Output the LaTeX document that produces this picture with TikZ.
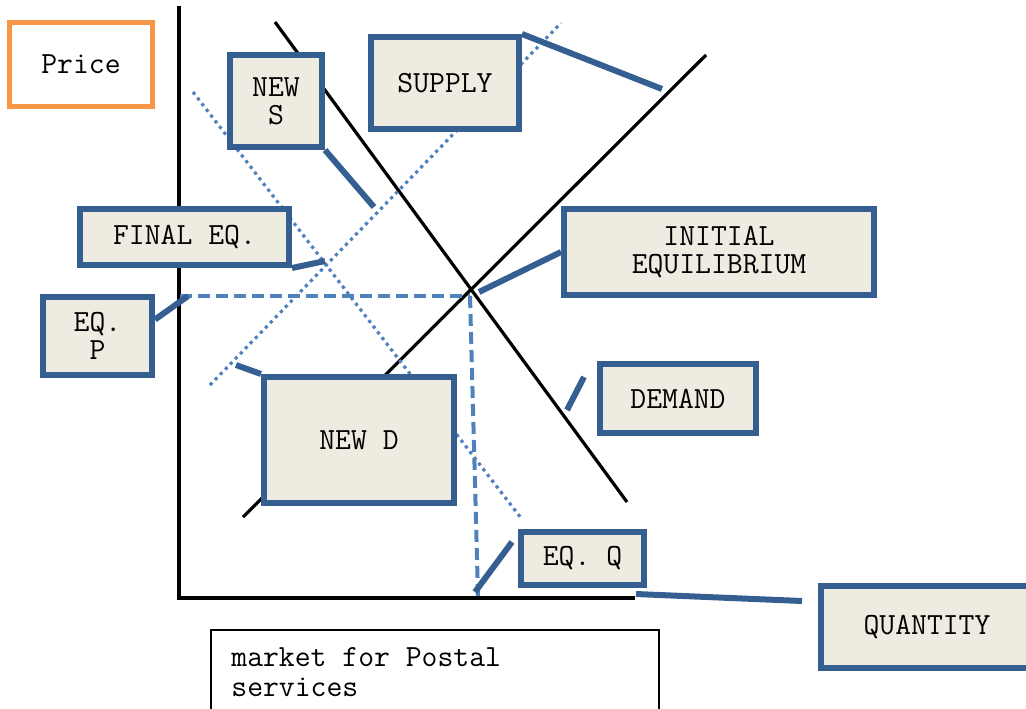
\documentclass[tikz,border=0pt]{standalone}
\usepackage{fontspec}
\usepackage{tikz}
\usetikzlibrary{calc,positioning}
\definecolor{myframe}{RGB}{54,95,145}
\definecolor{mybeige}{RGB}{238,236,225}
\definecolor{myorange}{RGB}{247,150,70}
\definecolor{myaccent}{RGB}{79,129,189}
\tikzstyle{labelbox}=[draw=myframe,fill=mybeige,line width=3pt,align=center,inner sep=0pt,font=\ttfamily\fontsize{15.4}{14}\selectfont]
\tikzstyle{pointer}=[draw=myframe,line width=3pt]
\tikzstyle{curve}=[black,line width=1.6pt]
\tikzstyle{axis}=[black,line width=2pt]
\tikzstyle{shifted}=[myaccent,line width=1.6pt,dash pattern=on 1.6pt off 2pt]
\tikzstyle{guide}=[myaccent,line width=1.6pt,dash pattern=on 6pt off 3pt]

\begin{document}
\begin{tikzpicture}[x=0.5pt,y=-0.5pt]
\useasboundingbox (0,0) rectangle (1026,708);
% axes
\coordinate (origin) at (179,598);
\coordinate (ytop) at (179,6);
\coordinate (xend) at (635,598);
\draw[axis] (ytop) -- (origin) -- (xend);
% demand and supply
\coordinate (d1) at (275,22);
\coordinate (d2) at (627,502);
\coordinate (s1) at (243,517);
\coordinate (s2) at (706,55);
\draw[curve] (d1) -- (d2);
\draw[curve] (s1) -- (s2);
% shifted curves
\coordinate (ns1) at (210,385);
\coordinate (ns2) at (561,23);
\coordinate (nd1) at (193,92);
\coordinate (nd2) at (521,518);
\draw[shifted] (ns1) -- (ns2);
\draw[shifted] (nd1) -- (nd2);
% equilibrium guides
\coordinate (eqpaxis) at (180,296);
\coordinate (eqcorner) at (470,296);
\coordinate (eqqaxis) at (478,596);
\draw[guide] (eqpaxis) -- (eqcorner);
\draw[guide,line width=2pt] (eqcorner) -- (eqqaxis);
% labels
\node[draw=myorange,fill=white,line width=2.5pt,minimum width=71.5pt,minimum height=42pt,inner sep=0pt,font=\ttfamily\fontsize{15.4}{14}\selectfont] (price) at (81,64.5) {Price};
\node[labelbox,minimum width=46pt,minimum height=46pt] (news) at (276,101) {NEW\\S};
\node[labelbox,minimum width=74pt,minimum height=46pt] (supply) at (445,83) {SUPPLY};
\node[labelbox,minimum width=104.5pt,minimum height=28pt] (finaleq) at (184.5,237) {FINAL EQ.};
\node[labelbox,minimum width=155pt,minimum height=43pt] (initeq) at (719,252) {INITIAL\\EQUILIBRIUM};
\node[labelbox,minimum width=54.5pt,minimum height=39pt] (eqp) at (97.5,336) {EQ.\\P};
\node[labelbox,minimum width=95pt,minimum height=63pt] (newd) at (359,440) {NEW D};
\node[labelbox,minimum width=78pt,minimum height=34.5pt] (demand) at (678,398.5) {DEMAND};
\node[labelbox,minimum width=61.5pt,minimum height=26.5pt] (eqq) at (582.5,558.5) {EQ. Q};
\node[labelbox,minimum width=106pt,minimum height=41pt] (quantity) at (927,627) {QUANTITY};
% pointers
\coordinate (newsptr) at (374,207);
\coordinate (supplyptr) at (662,89);
\coordinate (finalptr) at (325,261);
\coordinate (initptr) at (479,292);
\coordinate (eqpptr) at (188,296);
\coordinate (newdptr) at (236,365);
\coordinate (demandA) at (584,377);
\coordinate (demandB) at (567,410);
\coordinate (eqqA) at (512,542);
\coordinate (eqqB) at (475,592);
\coordinate (quantA) at (802,601);
\coordinate (quantB) at (636,594);
\draw[pointer] (news.south east) -- (newsptr);
\draw[pointer] (supply.north east) -- (supplyptr);
\draw[pointer] (finaleq.south east) -- (finalptr);
\draw[pointer] (initeq.west) -- (initptr);
\draw[pointer] (eqp.16) -- (eqpptr);
\draw[pointer] (newd.north west) -- (newdptr);
\draw[pointer] (demandA) -- (demandB);
\draw[pointer] (eqqA) -- (eqqB);
\draw[pointer] (quantA) -- (quantB);
% market caption
\draw[black,line width=1pt,fill=white] (211,630) rectangle (659,730);
\node[anchor=north west,align=left,inner sep=0pt,font=\ttfamily\fontsize{15.4}{15}\selectfont] (market) at (231,647) {market for Postal\\services};
\end{tikzpicture}
\end{document}
